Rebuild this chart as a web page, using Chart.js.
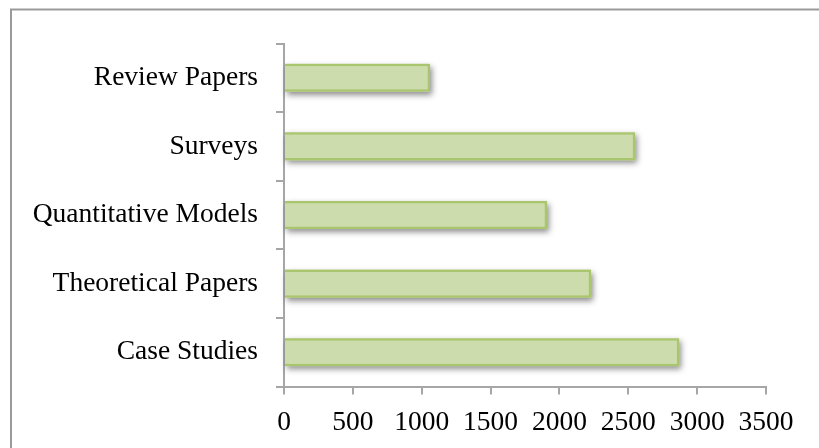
<!DOCTYPE html>
<html>
<head>
<meta charset="utf-8">
<script src="https://cdn.jsdelivr.net/npm/chart.js@4/dist/chart.umd.min.js"></script>
<style>
  html, body { margin: 0; padding: 0; background: #ffffff; }
  #wrap { width: 819px; height: 448px; }
</style>
</head>
<body>
<div id="wrap"><canvas id="c" width="819" height="448"></canvas></div>
<script>
// Publication counts by research type
const categories = ["Review Papers", "Surveys", "Quantitative Models", "Theoretical Papers", "Case Studies"];
const counts = [1060, 2550, 1910, 2230, 2870];
const xTicks = [0, 500, 1000, 1500, 2000, 2500, 3000, 3500];

const FONT = "'Liberation Serif', 'DejaVu Serif', serif";

// Outer frame of the chart area (top and left edges)
const framePlugin = {
  id: 'frame',
  beforeDraw(chart) {
    const ctx = chart.ctx;
    ctx.save();
    ctx.strokeStyle = '#9a9a9a';
    ctx.lineWidth = 2;
    ctx.beginPath();
    ctx.moveTo(11, 460);
    ctx.lineTo(11, 9.5);
    ctx.lineTo(830, 9.5);
    ctx.stroke();
    ctx.restore();
  }
};

// Soft drop shadow under each bar, taken from the bar elements' own geometry
const shadowPlugin = {
  id: 'barShadow',
  beforeDatasetsDraw(chart) {
    const ctx = chart.ctx;
    const meta = chart.getDatasetMeta(0);
    ctx.save();
    ctx.shadowColor = 'rgba(0,0,0,0.45)';
    ctx.shadowBlur = 6;
    ctx.shadowOffsetX = 2;
    ctx.shadowOffsetY = 3;
    ctx.fillStyle = '#cddcac';
    meta.data.forEach(bar => {
      const p = bar.getProps(['x', 'y', 'base', 'height'], true);
      ctx.fillRect(p.base, p.y - p.height / 2, p.x - p.base, p.height);
    });
    ctx.restore();
  }
};

new Chart(document.getElementById('c'), {
  type: 'bar',
  data: {
    labels: categories,
    datasets: [{
      data: counts,
      backgroundColor: '#cddcac',
      borderColor: '#a9c56d',
      borderWidth: 2.5,
      borderSkipped: 'start',
      categoryPercentage: 1,
      barPercentage: 0.41
    }]
  },
  options: {
    indexAxis: 'y',
    responsive: false,
    animation: false,
    devicePixelRatio: 1,
    layout: { padding: { top: 43.5, right: 53, left: 0, bottom: 0 } },
    plugins: {
      legend: { display: false },
      tooltip: { enabled: false }
    },
    scales: {
      x: {
        min: 0,
        max: 3500,
        afterBuildTicks(scale) {
          scale.ticks = xTicks.map(v => ({ value: v }));
        },
        afterFit(scale) { scale.height = 448 - 386.5; },
        border: { display: true, color: '#a6a6a6', width: 2 },
        grid: {
          display: true,
          drawOnChartArea: false,
          drawTicks: true,
          tickLength: 8,
          color: '#a6a6a6',
          lineWidth: 2
        },
        ticks: {
          color: '#000000',
          padding: 12,
          maxRotation: 0,
          autoSkip: false,
          callback: v => String(v),
          font: { family: FONT, size: 27.5 }
        }
      },
      y: {
        afterFit(scale) { scale.width = 284; },
        border: { display: true, color: '#a6a6a6', width: 2 },
        grid: {
          display: true,
          offset: true,
          drawOnChartArea: false,
          drawTicks: true,
          tickLength: 8,
          color: '#a6a6a6',
          lineWidth: 2
        },
        ticks: {
          color: '#000000',
          padding: 18,
          autoSkip: false,
          font: { family: FONT, size: 27.5 }
        }
      }
    }
  },
  plugins: [framePlugin, shadowPlugin]
});
</script>
</body>
</html>
